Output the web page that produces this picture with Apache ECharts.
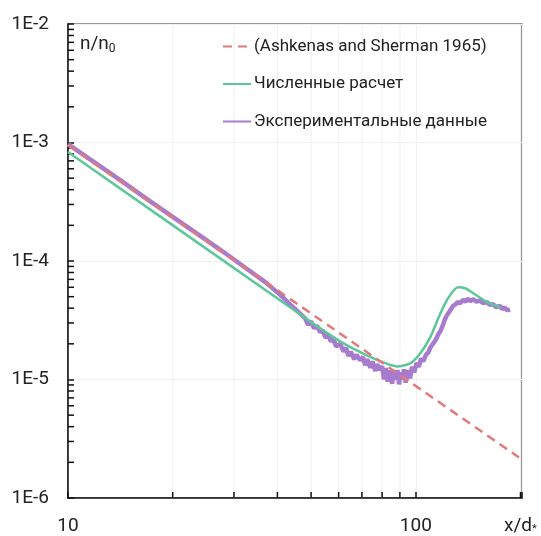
<!DOCTYPE html>
<html>
<head>
<meta charset="utf-8">
<script src="https://cdn.jsdelivr.net/npm/echarts@6/dist/echarts.min.js"></script>
<style>
html,body{margin:0;padding:0;background:#fff;}
#chart{width:541px;height:536px;}
</style>
</head>
<body>
<div id="chart"></div>
<script>
// ---------- data ----------
const seriesNames = ['(Ashkenas and Sherman 1965)', 'Численные расчет', 'Экспериментальные данные'];

const ashX = [10, 198];
const ashY = [9.5e-4, 2.2e-6];

const numX = [10, 43.5, 53.1, 60.6, 69.2, 78.9, 88.3, 96.3, 102.9, 110, 117.4, 123.8, 132.3, 138.6, 146.3, 160.4, 174.7];
const numY = [8.3e-4, 4.07e-5, 2.7e-5, 2.1e-5, 1.7e-5, 1.43e-5, 1.29e-5, 1.37e-5, 1.66e-5, 2.27e-5, 3.56e-5, 4.85e-5, 6.0e-5, 5.89e-5, 5.35e-5, 4.49e-5, 4.07e-5];

const expX = [10, 12, 14, 17.2, 20, 24, 28, 33.4, 37, 40.7, 43.5, 46.5,
  48, 49, 50, 51, 52, 53.1, 54, 55, 56, 57, 58, 59, 60.6, 62, 63, 64, 65, 66.5, 67.5, 69.2, 70.5, 71.5, 72.5, 74, 75, 76.5, 77.5, 78.9,
  80, 81, 82, 83, 84.3, 85.5, 86.5, 87.5, 88.5, 89.5, 90.5, 91.5, 92.5, 93.5, 95, 96.3, 97.5, 99, 100.5, 102, 103.5, 105, 107, 108.5,
  110, 112, 114, 116, 118, 120, 121.4, 123, 125, 128.1, 130, 132, 134, 136.8, 139, 141, 143.5, 146.3, 149, 153, 156, 160.4, 163, 167, 170, 174.7, 177, 180, 183, 186.7];
const expY = [9.7e-4, 6.7e-4, 4.9e-4, 3.2e-4, 2.36e-4, 1.63e-4, 1.19e-4, 8.2e-5, 6.6e-5, 5.2e-5, 4.3e-5, 3.6e-5,
  3.3e-5, 2.9e-5, 3.1e-5, 2.7e-5, 2.85e-5, 2.5e-5, 2.6e-5, 2.25e-5, 2.4e-5, 2.1e-5, 2.2e-5, 1.9e-5, 2.0e-5, 1.72e-5, 1.85e-5, 1.58e-5, 1.72e-5, 1.48e-5, 1.62e-5, 1.45e-5, 1.55e-5, 1.32e-5, 1.48e-5, 1.26e-5, 1.42e-5, 1.18e-5, 1.35e-5, 1.2e-5,
  1.3e-5, 1.0e-5, 1.25e-5, 0.96e-5, 1.2e-5, 0.92e-5, 1.18e-5, 1.0e-5, 1.2e-5, 0.91e-5, 1.15e-5, 1.0e-5, 1.22e-5, 0.94e-5, 1.2e-5, 1.02e-5, 1.28e-5, 1.15e-5, 1.38e-5, 1.28e-5, 1.5e-5, 1.42e-5, 1.62e-5, 1.68e-5,
  1.85e-5, 2.0e-5, 2.15e-5, 2.4e-5, 2.6e-5, 2.95e-5, 3.25e-5, 3.5e-5, 3.75e-5, 4.2e-5, 4.3e-5, 4.5e-5, 4.4e-5, 4.7e-5, 4.55e-5, 4.8e-5, 4.6e-5, 4.75e-5, 4.55e-5, 4.62e-5, 4.42e-5, 4.5e-5, 4.28e-5, 4.32e-5, 4.08e-5, 4.18e-5, 3.93e-5, 4.05e-5, 3.83e-5, 3.9e-5];

const xTickLabels = ['10', '100'];
const yTickLabels = ['1E-6', '1E-5', '1E-4', '1E-3', '1E-2'];
const xMinorTicks = [20, 30, 40, 50, 60, 70, 80, 90, 200];
const yMinorTicks = [];
[1e-6, 1e-5, 1e-4, 1e-3].forEach(d => [2, 3, 4, 5, 6, 7, 8, 9].forEach(m => yMinorTicks.push(m * d)));

// ---------- chart ----------
const FONT = "Roboto, 'DejaVu Sans Condensed', sans-serif";
const zip = (a, b) => a.map((v, i) => [v, b[i]]);
const chart = echarts.init(document.getElementById('chart'), null, {renderer: 'canvas'});

const option = {
  backgroundColor: '#fff',
  animation: false,
  grid: {left: 68, right: 19, top: 24, bottom: 38, containLabel: false, show: true, borderColor: '#777', borderWidth: 1.5, backgroundColor: 'transparent'},
  xAxis: {
    type: 'log', logBase: 10, min: 10, max: 202,
    axisLine: {show: true, lineStyle: {color: '#111', width: 1.5}},
    axisTick: {show: true, inside: true, length: 6, lineStyle: {color: '#111', width: 1.5}},
    splitLine: {show: true, lineStyle: {color: '#f0f0f0', width: 1}},
    axisLabel: {
      margin: 19, color: '#222', fontSize: 19, fontFamily: FONT,
      formatter: v => (Math.abs(v - 10) < 1e-6 ? xTickLabels[0] : (Math.abs(v - 100) < 1e-6 ? xTickLabels[1] : ''))
    }
  },
  yAxis: {
    type: 'log', logBase: 10, min: 1e-6, max: 1e-2,
    axisLine: {show: true, lineStyle: {color: '#111', width: 1.5}},
    axisTick: {show: true, inside: true, length: 6, lineStyle: {color: '#111', width: 1.5}},
    splitLine: {show: true, lineStyle: {color: '#f0f0f0', width: 1}},
    axisLabel: {
      margin: 19, color: '#222', fontSize: 19, fontFamily: FONT,
      formatter: v => yTickLabels[Math.round(Math.log10(v)) + 6] || ''
    }
  },
  legend: {
    data: seriesNames,
    orient: 'vertical', left: 222, top: 38, padding: 0,
    itemWidth: 28, itemHeight: 14, itemGap: 20.5,
    itemStyle: {opacity: 0, borderWidth: 0},
    textStyle: {fontFamily: FONT, fontSize: 17, color: '#222', padding: [0, 0, 0, -2]}
  },
  graphic: [
    {type: 'text', left: 80, top: 35, z: 100,
      style: {text: 'n/n{s|0}', fill: '#222', font: '19px ' + FONT,
        rich: {s: {fontSize: 12, fontFamily: FONT, fill: '#222', verticalAlign: 'bottom', padding: [8, 0, 0, 0]}}}},
    {type: 'text', left: 504, top: 517, z: 100,
      style: {text: 'x/d{s|*}', fill: '#222', font: '19px ' + FONT,
        rich: {s: {fontSize: 11, fontFamily: FONT, fill: '#222', padding: [6, 0, 0, 0]}}}}
  ],
  series: [
    {
      type: 'custom', name: 'xminor', silent: true, z: 1,
      data: xMinorTicks.map(v => [v, 1e-6]),
      encode: {x: 0, y: 1},
      renderItem: (params, api) => {
        const p = api.coord([api.value(0), api.value(1)]);
        const cs = params.coordSys;
        return {type: 'group', children: [
          {type: 'line', shape: {x1: p[0], y1: cs.y, x2: p[0], y2: cs.y + cs.height}, style: {stroke: '#f0f0f0', lineWidth: 1}},
          {type: 'line', shape: {x1: p[0], y1: cs.y + cs.height, x2: p[0], y2: cs.y + cs.height - 6}, style: {stroke: '#111', lineWidth: 1.5}}
        ]};
      }
    },
    {
      type: 'custom', name: 'yminor', silent: true, z: 1,
      data: yMinorTicks.map(v => [10, v]),
      encode: {x: 0, y: 1},
      renderItem: (params, api) => {
        const p = api.coord([api.value(0), api.value(1)]);
        return {type: 'line', shape: {x1: p[0], y1: p[1], x2: p[0] + 6, y2: p[1]}, style: {stroke: '#111', lineWidth: 1.5}};
      }
    },
    {
      name: seriesNames[2], type: 'line', z: 2, symbol: 'none', smooth: false,
      data: zip(expX, expY),
      lineStyle: {color: '#a77ccf', width: 4.5}, itemStyle: {color: '#a77ccf'}
    },
    {
      name: seriesNames[1], type: 'line', z: 3, symbol: 'none', smooth: 0.25,
      data: zip(numX, numY),
      lineStyle: {color: '#5dc79a', width: 2.5}, itemStyle: {color: '#5dc79a'}
    },
    {
      name: seriesNames[0], type: 'line', z: 4, symbol: 'none',
      data: zip(ashX, ashY),
      lineStyle: {color: '#e07b7b', width: 2.5, type: [9, 6]}, itemStyle: {color: '#e07b7b'}
    }
  ]
};
chart.setOption(option);
</script>
</body>
</html>
